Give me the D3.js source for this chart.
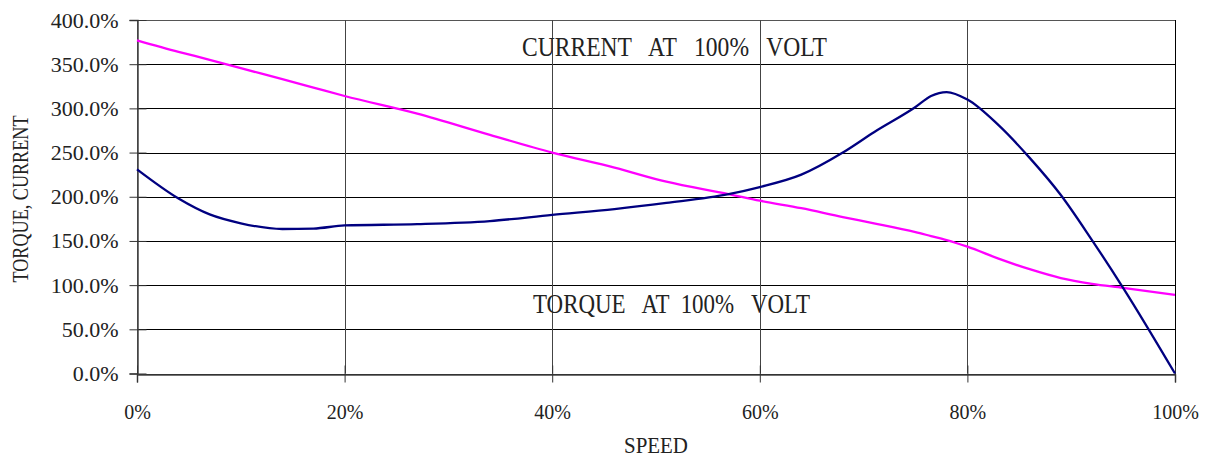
<!DOCTYPE html>
<html>
<head>
<meta charset="utf-8">
<script src="https://cdn.jsdelivr.net/npm/d3@7"></script>
<style>
  body { margin: 0; background: #fff; }
  text { font-family: "Liberation Serif", "DejaVu Serif", serif; fill: #222; }
</style>
</head>
<body>
<div id="chart"></div>
<script>
// speed in % of synchronous speed
var speed   = [0, 4, 7, 10, 14, 17, 20, 27, 34, 40, 46, 51, 57, 60, 64, 68, 71, 75, 76.5, 78, 80, 83, 86, 89, 92, 95, 100];
// torque at 100% volt (navy)
var torque  = [231, 198, 180, 170, 163.5, 164, 167.5, 169, 172.5, 179.5, 186, 193, 203, 211, 225, 250, 273, 301.5, 314, 318.5, 310, 281, 244, 202, 151, 97, 0];
// current at 100% volt (magenta)
var current = [377, 364, 355, 345.5, 333, 323.5, 314, 294, 270, 250, 233, 217, 203, 195.5, 187, 177, 170, 160, 155.5, 151, 143.5, 130, 118, 108, 101.5, 97, 89];

var xTicks = [0, 20, 40, 60, 80, 100];
var yTicks = [0, 50, 100, 150, 200, 250, 300, 350, 400];

var width = 1205, height = 459;
var plotL = 137, plotR = 1175, plotT = 20, plotB = 373.5;

var svg = d3.select('#chart').append('svg')
            .attr('width', width)
            .attr('height', height);

var x = d3.scaleLinear().domain([0, 100]).range([plotL, plotR]);
var y = d3.scaleLinear().domain([0, 400]).range([plotB, plotT]);

// horizontal grid
svg.append('g').selectAll('line')
   .data(yTicks)
   .enter().append('line')
   .attr('x1', plotL).attr('x2', plotR)
   .attr('y1', d => Math.round(y(d)) + 0.5).attr('y2', d => Math.round(y(d)) + 0.5)
   .attr('stroke', d => (d === 400 ? '#555' : '#000')).attr('stroke-width', 1);

// vertical grid
svg.append('g').selectAll('line')
   .data(xTicks)
   .enter().append('line')
   .attr('x1', d => Math.round(x(d)) + 0.5).attr('x2', d => Math.round(x(d)) + 0.5)
   .attr('y1', plotT).attr('y2', plotB)
   .attr('stroke', d => (d === 100 ? '#000' : '#444')).attr('stroke-width', 1);

// y axis with ticks crossing the axis line
var yAxis = svg.append('g')
   .attr('transform', 'translate(' + (Math.round(plotL) + 0.5) + ',0)')
   .call(d3.axisLeft(y).tickValues(yTicks).tickSize(8).tickPadding(11)
          .tickFormat(d => d3.format('.1f')(d) + '%'));
yAxis.select('.domain').attr('stroke', '#444').attr('stroke-width', 1.5);
yAxis.selectAll('.tick line').attr('stroke', '#333').attr('x2', -8).attr('x1', 9);
yAxis.selectAll('.tick text').style('font-size', '22px').attr('fill', '#222')
     .style('font-family', '"Liberation Serif", serif');

// x axis
var xAxis = svg.append('g')
   .attr('transform', 'translate(0,' + (Math.round(plotB) + 0.5) + ')')
   .call(d3.axisBottom(x).tickValues(xTicks).tickSize(8).tickPadding(22)
          .tickFormat(d => d + '%'));
xAxis.select('.domain').attr('stroke', '#444').attr('stroke-width', 1.5);
xAxis.selectAll('.tick line').attr('stroke', '#333').attr('y1', -9).attr('y2', 8);
xAxis.selectAll('.tick text').style('font-size', '20px').attr('fill', '#222')
     .style('font-family', '"Liberation Serif", serif');

var line = d3.line()
   .x((d, i) => x(speed[i]))
   .y(d => y(d))
   .curve(d3.curveMonotoneX);

svg.append('path')
   .datum(current)
   .attr('d', line)
   .attr('fill', 'none')
   .attr('stroke', '#ff00ff')
   .attr('stroke-width', 2.3);

svg.append('path')
   .datum(torque)
   .attr('d', line)
   .attr('fill', 'none')
   .attr('stroke', '#000080')
   .attr('stroke-width', 2.3);

// annotations
svg.append('text')
   .attr('x', 522).attr('y', 56)
   .attr('textLength', 305).attr('lengthAdjust', 'spacingAndGlyphs')
   .style('font-size', '27px').style('white-space', 'pre')
   .text('CURRENT   AT   100%   VOLT');

svg.append('text')
   .attr('x', 533).attr('y', 313)
   .attr('textLength', 277).attr('lengthAdjust', 'spacingAndGlyphs')
   .style('font-size', '27px').style('white-space', 'pre')
   .text('TORQUE   AT  100%   VOLT');

// axis titles
svg.append('text')
   .attr('transform', 'translate(28,199) rotate(-90)')
   .attr('text-anchor', 'middle')
   .attr('textLength', 167).attr('lengthAdjust', 'spacingAndGlyphs')
   .style('font-size', '23px')
   .text('TORQUE, CURRENT');

svg.append('text')
   .attr('x', 656).attr('y', 453)
   .attr('text-anchor', 'middle')
   .attr('textLength', 64).attr('lengthAdjust', 'spacingAndGlyphs')
   .style('font-size', '23px')
   .text('SPEED');
</script>
</body>
</html>
